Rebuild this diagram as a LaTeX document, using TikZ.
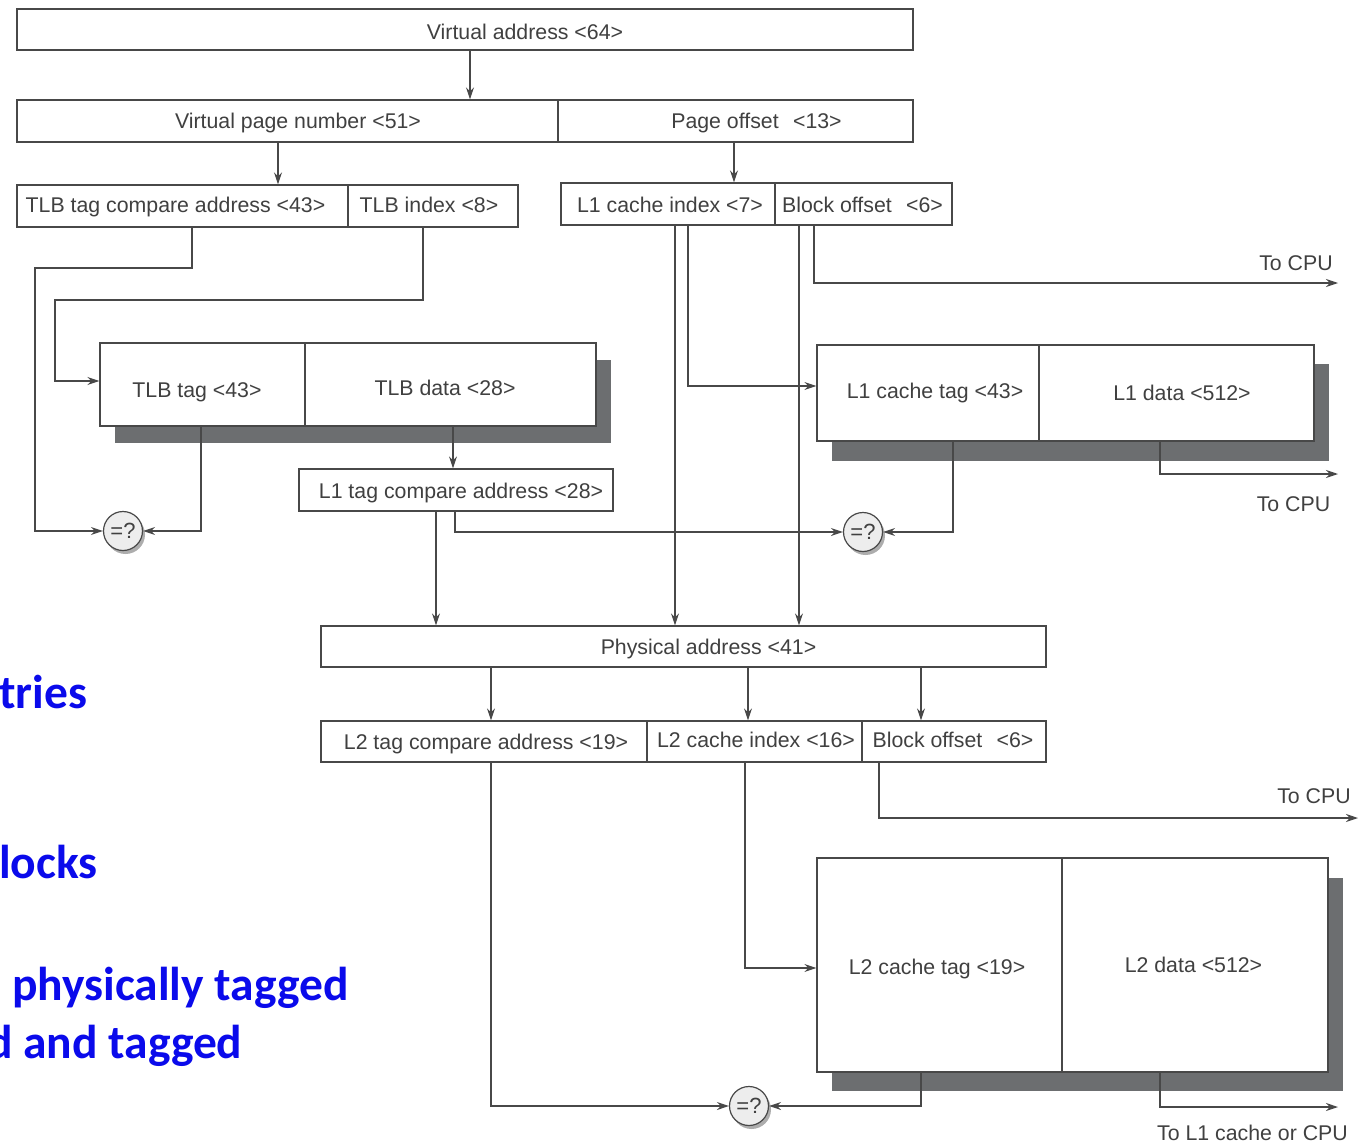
\documentclass[tikz,border=0pt]{standalone}
\usepackage{fontspec}
\setmainfont{Liberation Sans}
\newfontfamily\blufont{Carlito}
\usetikzlibrary{arrows.meta,shadows}
\definecolor{ln}{HTML}{484848}
\definecolor{tx}{HTML}{404040}
\definecolor{sh}{HTML}{6C6E70}
\definecolor{bl}{RGB}{10,10,235}
\begin{document}
\begin{tikzpicture}[x=1pt,y=-1pt,
  box/.style={draw=ln, line width=1.3pt, fill=white, inner sep=0pt},
  lbl/.style={text=tx, font=\fontsize{21.3}{25}\selectfont, inner sep=0pt, anchor=base},
  arr/.style={draw=ln, line width=1.3pt, -{Stealth[length=12pt,width=8pt]}},
  cmp/.style={circle, draw=ln, line width=1.2pt, minimum size=39pt, inner sep=0pt,
    fill=gray!14, text=tx, font=\fontsize{22}{26}\selectfont,
    drop shadow={shadow xshift=2.5pt, shadow yshift=-3.5pt, fill=gray!75, opacity=0.85}},
  blt/.style={text=bl, font=\blufont\bfseries\fontsize{47.5}{56}\selectfont, inner sep=0pt, anchor=base west}
]
\useasboundingbox (0,0) rectangle (1367,1143);
\fill[white] (0,0) rectangle (1367,1143);

% column / row coordinates
\foreach \xx in {35,55,192,201,278,423,436,453,455,470,491,675,688,734,745,748,799,814,879,921,953,1160}
  {\coordinate (x\xx) at (\xx,0);}
\foreach \yy in {268,300,381,386,968}
  {\coordinate (y\yy) at (0,\yy);}
\coordinate (cpuA) at (1338,283);
\coordinate (cpuB) at (1338,474);
\coordinate (cpuC) at (1358,818);
\coordinate (cpuD) at (1338,1107);

% shadows
\fill[sh] (115,360) rectangle (611,443);
\fill[sh] (832,364) rectangle (1329,461);
\fill[sh] (832,878) rectangle (1343,1091);

% boxes
\node[box, minimum width=896pt, minimum height=41pt] (va) at (465,29.5) {};
\node[box, minimum width=541pt, minimum height=42pt] (vpn) at (287.5,121) {};
\node[box, minimum width=355pt, minimum height=42pt] (po) at (735.5,121) {};
\node[box, minimum width=331pt, minimum height=42pt] (tc) at (182.5,206) {};
\node[box, minimum width=170pt, minimum height=42pt] (ti) at (433,206) {};
\node[box, minimum width=214pt, minimum height=42pt] (l1i) at (668,204) {};
\node[box, minimum width=177pt, minimum height=42pt] (l1b) at (863.5,204) {};
\node[box, minimum width=205pt, minimum height=83pt] (tlbt) at (202.5,384.5) {};
\node[box, minimum width=291pt, minimum height=83pt] (tlbd) at (450.5,384.5) {};
\node[box, minimum width=314pt, minimum height=42pt] (l1tc) at (456,490) {};
\node[box, minimum width=222pt, minimum height=96pt] (l1ct) at (928,393) {};
\node[box, minimum width=275pt, minimum height=96pt] (l1d) at (1176.5,393) {};
\node[box, minimum width=725pt, minimum height=41pt] (pa) at (683.5,646.5) {};
\node[box, minimum width=326pt, minimum height=41pt] (l2tc) at (484,741.5) {};
\node[box, minimum width=215pt, minimum height=41pt] (l2ci) at (754.5,741.5) {};
\node[box, minimum width=184pt, minimum height=41pt] (l2bo) at (954,741.5) {};
\node[box, minimum width=245pt, minimum height=214pt] (l2ct) at (939.5,965) {};
\node[box, minimum width=266pt, minimum height=214pt] (l2d) at (1195,965) {};

% comparators
\node[cmp] (c1) at (123,531) {=?};
\node[cmp] (c2) at (863,532) {=?};
\node[cmp] (c3) at (749,1106) {=?};

% labels
\node[lbl] (tva) at (525,39.5) {Virtual address <64>};
\node[lbl] (tvpn) at (298,128.5) {Virtual page number <51>};
\node[lbl] (tpo) at (756.5,128.5) {Page offset\hspace{0.4em} <13>};
\node[lbl] (ttc) at (175.5,212.5) {TLB tag compare address <43>};
\node[lbl] (tti) at (429,212.5) {TLB index <8>};
\node[lbl] (tl1i) at (670,212.5) {L1 cache index <7>};
\node[lbl] (tl1b) at (862.5,212.5) {Block offset\hspace{0.4em} <6>};
\node[lbl] (ttlbt) at (197,397.5) {TLB tag <43>};
\node[lbl] (ttlbd) at (445,395.5) {TLB data <28>};
\node[lbl] (tl1tc) at (461,498.5) {L1 tag compare address <28>};
\node[lbl] (tl1ct) at (935,398.5) {L1 cache tag <43>};
\node[lbl] (tl1d) at (1182,400.5) {L1 data <512>};
\node[lbl] (tpa) at (708.5,654.5) {Physical address <41>};
\node[lbl] (tl2tc) at (486,749.5) {L2 tag compare address <19>};
\node[lbl] (tl2ci) at (756,747.5) {L2 cache index <16>};
\node[lbl] (tl2bo) at (953,747.5) {Block offset\hspace{0.4em} <6>};
\node[lbl] (tl2ct) at (937,974.5) {L2 cache tag <19>};
\node[lbl] (tl2d) at (1193.5,972.5) {L2 data <512>};
\node[lbl] (cpu1) at (1296,270.5) {To CPU};
\node[lbl] (cpu2) at (1293.5,511.5) {To CPU};
\node[lbl] (cpu3) at (1314,803.5) {To CPU};
\node[lbl] (cpu4) at (1252.5,1140) {To L1 cache or CPU};

% connectors
\draw[arr] (va.south -| x470) -- (vpn.north -| x470);
\draw[arr] (vpn.south -| x278) -- (tc.north -| x278);
\draw[arr] (po.south -| x734) -- (l1i.north -| x734);
\draw[arr] (tc.south -| x192) -- (x192 |- y268) -| (x35 |- c1) -- (c1.west);
\draw[arr] (ti.south -| x423) -- (x423 |- y300) -| (x55 |- y381) -- (tlbt.west |- y381);
\draw[arr] (tlbt.south -| x201) |- (c1.east);
\draw[arr] (tlbd.south -| x453) -- (l1tc.north -| x453);
\draw[arr] (l1tc.south -| x455) |- (c2.west);
\draw[arr] (l1tc.south -| x436) -- (pa.north -| x436);
\draw[arr] (l1i.south -| x675) -- (pa.north -| x675);
\draw[arr] (l1i.south -| x688) |- (l1ct.west |- y386);
\draw[arr] (l1b.south -| x799) -- (pa.north -| x799);
\draw[arr] (l1b.south -| x814) |- (cpuA);
\draw[arr] (l1ct.south -| x953) |- (c2.east);
\draw[arr] (l1d.south -| x1160) |- (cpuB);
\draw[arr] (pa.south -| x491) -- (l2tc.north -| x491);
\draw[arr] (pa.south -| x748) -- (l2ci.north -| x748);
\draw[arr] (pa.south -| x921) -- (l2bo.north -| x921);
\draw[arr] (l2tc.south -| x491) |- (c3.west);
\draw[arr] (l2ci.south -| x745) |- (l2ct.west |- y968);
\draw[arr] (l2bo.south -| x879) |- (cpuC);
\draw[arr] (l2ct.south -| x921) |- (c3.east);
\draw[arr] (l2d.south -| x1160) |- (cpuD);

% blue fragments
\node[blt] (b1) at (-1,708) {tries};
\node[blt] (b2) at (-1,878) {locks};
\node[blt] (b3) at (12,1000) {physically tagged};
\node[blt] (b4) at (-13,1058) {d and tagged};
\end{tikzpicture}
\end{document}
